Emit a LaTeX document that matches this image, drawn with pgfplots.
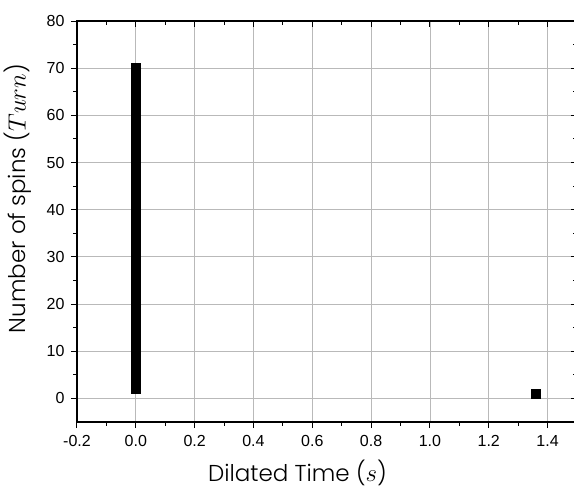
\documentclass[border=0pt]{standalone}
\usepackage{pgfplots}
\pgfplotsset{compat=1.18}
\usepackage{fontspec}
\setmainfont{Liberation Sans}
\newfontfamily\labfont{Poppins Light}
\begin{document}
\begin{tikzpicture}[x=1pt,y=1pt]
\path[use as bounding box] (-77,-66) rectangle (497,422);
\begin{axis}[
  at={(0,0)}, anchor=south west,
  scale only axis, width=500pt, height=401pt,
  xmin=-0.2, xmax=1.5, ymin=-5, ymax=80,
  xtick={-0.2,0,0.2,0.4,0.6,0.8,1.0,1.2,1.4},
  ytick={0,10,...,80},
  minor xtick={-0.1,0.1,0.3,0.5,0.7,0.9,1.1,1.3},
  minor ytick={5,15,...,75},
  xticklabel style={/pgf/number format/fixed, /pgf/number format/fixed zerofill, /pgf/number format/precision=1},
  x tick label style={font=\fontsize{16}{16}\selectfont, yshift=-4pt},
  y tick label style={font=\fontsize{16}{16}\selectfont, xshift=-3pt},
  /pgf/number format/assume math mode=true,
  tick align=outside, xtick pos=bottom, ytick pos=left,
  major tick length=6pt, minor tick length=3.5pt,
  every tick/.style={black, line width=1pt},
  axis line style={black, line width=1.4pt},
  grid=major, major grid style={gray!55, line width=0.8pt},
  xlabel={\labfont Dilated Time ($s$)},
  ylabel={\labfont Number of spins ($Turn$)},
  label style={font=\fontsize{23}{23}\selectfont},
  xlabel style={at={(axis description cs:0.441,0)}, anchor=north, yshift=-34pt},
  ylabel style={at={(axis description cs:0,0.557)}, anchor=south, yshift=42pt},
  clip=false,
]
\addplot[only marks, mark=square*, mark size=4.5pt, black] coordinates {
(0,2)(0,3)(0,4)(0,5)(0,6)(0,7)(0,8)(0,9)(0,10)
(0,11)(0,12)(0,13)(0,14)(0,15)(0,16)(0,17)(0,18)(0,19)(0,20)
(0,21)(0,22)(0,23)(0,24)(0,25)(0,26)(0,27)(0,28)(0,29)(0,30)
(0,31)(0,32)(0,33)(0,34)(0,35)(0,36)(0,37)(0,38)(0,39)(0,40)
(0,41)(0,42)(0,43)(0,44)(0,45)(0,46)(0,47)(0,48)(0,49)(0,50)
(0,51)(0,52)(0,53)(0,54)(0,55)(0,56)(0,57)(0,58)(0,59)(0,60)
(0,61)(0,62)(0,63)(0,64)(0,65)(0,66)(0,67)(0,68)(0,69)(0,70)
(1.36,1)
};
\end{axis}
\begin{axis}[
  at={(0,0)}, anchor=south west,
  scale only axis, width=500pt, height=401pt,
  xmin=-0.2, xmax=1.5, ymin=-5, ymax=80,
  xtick={-0.2,0,0.2,0.4,0.6,0.8,1.0,1.2,1.4},
  ytick={0,10,...,80},
  minor xtick={-0.1,0.1,0.3,0.5,0.7,0.9,1.1,1.3},
  minor ytick={5,15,...,75},
  xticklabels={}, yticklabels={},
  tick align=inside, xtick pos=top, ytick pos=right,
  major tick length=6pt, minor tick length=3.5pt,
  every tick/.style={black, line width=1pt},
  axis line style={black, line width=1.4pt},
]
\end{axis}
\end{tikzpicture}
\end{document}
